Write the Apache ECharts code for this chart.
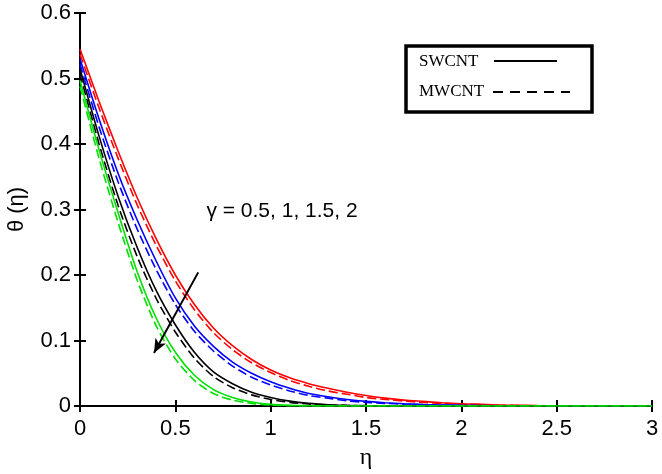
<!DOCTYPE html>
<html>
<head>
<meta charset="utf-8">
<script src="https://cdn.jsdelivr.net/npm/echarts@6/dist/echarts.min.js"></script>
<style>
html,body{margin:0;padding:0;background:#fff;}
#chart{width:662px;height:474px;}
</style>
</head>
<body>
<div id="chart"></div>
<script>
// eta grid
const eta = [0,0.1,0.2,0.3,0.4,0.5,0.6,0.7,0.8,0.9,1.0,1.1,1.2,1.3,1.4,1.5,1.6,1.7,1.8,1.9,2.0,2.2,2.4,2.6,2.8,3.0];
// gamma = 0.5 (red)
const redSW = [0.545,0.465,0.389,0.318,0.255,0.200,0.155,0.119,0.092,0.071,0.055,0.043,0.034,0.027,0.021,0.016,0.012,0.009,0.007,0.005,0.0035,0.0015,0.0005,0.0001,0,0];
const redMW = [0.537,0.455,0.378,0.307,0.245,0.191,0.147,0.112,0.086,0.066,0.051,0.039,0.030,0.023,0.018,0.013,0.010,0.0075,0.0055,0.004,0.003,0.0012,0.0004,0.0001,0,0];
// gamma = 1 (blue)
const blueSW = [0.530,0.438,0.355,0.284,0.221,0.165,0.122,0.091,0.067,0.050,0.037,0.027,0.019,0.014,0.010,0.007,0.005,0.0035,0.0024,0.0016,0.001,0.0003,0,0,0,0];
const blueMW = [0.522,0.426,0.342,0.270,0.208,0.155,0.114,0.084,0.061,0.044,0.032,0.023,0.016,0.012,0.008,0.0055,0.004,0.0027,0.0018,0.0012,0.0008,0.0002,0,0,0,0];
// gamma = 1.5 (black)
const blackSW = [0.515,0.412,0.320,0.242,0.176,0.124,0.082,0.052,0.034,0.021,0.013,0.0075,0.004,0.002,0.001,0.0005,0.0003,0.0001,0,0,0,0,0,0,0,0];
const blackMW = [0.507,0.400,0.306,0.228,0.164,0.113,0.073,0.045,0.028,0.017,0.010,0.0055,0.003,0.0015,0.0007,0.0003,0.0002,0.0001,0,0,0,0,0,0,0,0];
// gamma = 2 (green)
const greenSW = [0.497,0.391,0.295,0.205,0.134,0.082,0.047,0.025,0.013,0.006,0.0025,0.001,0.0004,0.0001,0,0,0,0,0,0,0,0,0,0,0,0];
const greenMW = [0.488,0.378,0.280,0.192,0.122,0.072,0.039,0.019,0.009,0.004,0.0015,0.0005,0.0001,0,0,0,0,0,0,0,0,0,0,0,0,0];

const xTicks = {min:0, max:3, interval:0.5};
const yTicks = {min:0, max:0.6, interval:0.1};
const annotationText = 'γ = 0.5, 1, 1.5, 2';
const arrowFrom = [0.62, 0.204];
const arrowTo = [0.388, 0.081];

const zip = (ys) => eta.map((x, i) => [x, ys[i]]);

function mk(name, ys, color, dashed) {
  return {
    name: name, type: 'line', data: zip(ys), showSymbol: false, smooth: 0.25,
    lineStyle: {color: color, width: 1.6, type: dashed ? [9, 4] : 'solid'},
    z: 3, silent: true
  };
}

const chart = echarts.init(document.getElementById('chart'), null, {renderer: 'canvas'});
const axisFont = {fontFamily: 'Liberation Sans, Arial', fontSize: 22, color: '#000'};
const lineBlack = {show: true, lineStyle: {color: '#000', width: 2}};
const tickIn = {show: true, inside: true, length: 6, lineStyle: {color: '#000', width: 2}};

const series = [
  mk('redSW', redSW, '#ff0000', false),
  mk('redMW', redMW, '#ff0000', true),
  mk('blueSW', blueSW, '#0000ff', false),
  mk('blueMW', blueMW, '#0000ff', true),
  mk('blackSW', blackSW, '#000000', false),
  mk('blackMW', blackMW, '#000000', true),
  mk('greenSW', greenSW, '#00e000', false),
  mk('greenMW', greenMW, '#00e000', true)
];
series[0].markLine = {
  silent: true, symbol: ['none', 'arrow'], symbolSize: [9, 14],
  label: {show: false},
  lineStyle: {color: '#000', width: 2, type: 'solid'},
  data: [[{coord: arrowFrom}, {coord: arrowTo}]]
};

chart.setOption({
  animation: false,
  backgroundColor: '#fff',
  grid: {left: 80, right: 10, top: 13, bottom: 68, containLabel: false, outerBoundsMode: 'none'},
  xAxis: [
    {type: 'value', min: xTicks.min, max: xTicks.max, interval: xTicks.interval, position: 'bottom',
     axisLine: lineBlack, axisTick: tickIn, splitLine: {show: false},
     axisLabel: Object.assign({margin: 12}, axisFont),
     name: 'η', nameLocation: 'middle', nameGap: 40,
     nameTextStyle: {fontFamily: 'Liberation Serif, Times New Roman', fontSize: 24, color: '#000'}},
    {type: 'value', min: xTicks.min, max: xTicks.max, interval: xTicks.interval, position: 'top',
     axisLine: lineBlack, axisTick: tickIn, splitLine: {show: false}, axisLabel: {show: false}}
  ],
  yAxis: [
    {type: 'value', min: yTicks.min, max: yTicks.max, interval: yTicks.interval, position: 'left',
     axisLine: lineBlack, axisTick: tickIn, splitLine: {show: false},
     axisLabel: Object.assign({margin: 9}, axisFont),
     name: 'θ (η)', nameLocation: 'middle', nameGap: 52, nameRotate: 90,
     nameTextStyle: {fontFamily: 'Liberation Sans, Arial', fontSize: 22, color: '#000'}},
    {type: 'value', min: yTicks.min, max: yTicks.max, interval: yTicks.interval, position: 'right',
     axisLine: lineBlack, axisTick: tickIn, splitLine: {show: false}, axisLabel: {show: false}}
  ],
  series: series,
  graphic: [
    {type: 'rect', shape: {x: 406, y: 46, width: 186, height: 66},
     style: {fill: '#fff', stroke: '#000', lineWidth: 3.5}, z: 10},
    {type: 'text', x: 419, y: 62, style: {text: 'SWCNT', font: '17px "Liberation Serif", "Times New Roman", serif', fill: '#000', verticalAlign: 'middle'}, z: 11},
    {type: 'line', shape: {x1: 494, y1: 61, x2: 557, y2: 61}, style: {stroke: '#000', lineWidth: 2}, z: 11},
    {type: 'text', x: 419, y: 92, style: {text: 'MWCNT', font: '17px "Liberation Serif", "Times New Roman", serif', fill: '#000', verticalAlign: 'middle'}, z: 11},
    {type: 'line', shape: {x1: 493, y1: 92, x2: 570, y2: 92}, style: {stroke: '#000', lineWidth: 2, lineDash: [10, 7]}, z: 11},
    {type: 'text', x: 282, y: 211, style: {text: annotationText, font: '21px "Liberation Sans", Arial, sans-serif', fill: '#000', align: 'center', verticalAlign: 'middle'}, z: 11}
  ]
});
</script>
</body>
</html>
